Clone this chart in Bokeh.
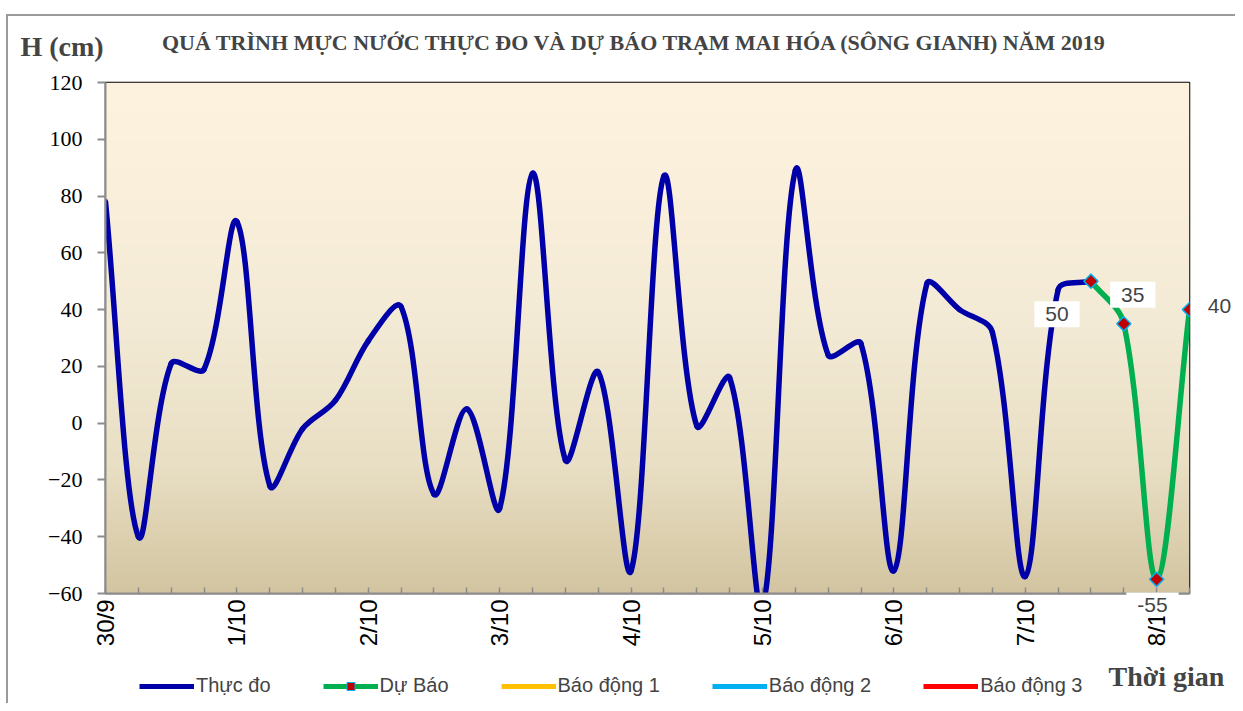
import math
import numpy as np
from bokeh.plotting import figure
from bokeh.layouts import column
from bokeh.models import Range1d, FixedTicker, Label, Legend, LegendItem
from bokeh.embed import file_html
from bokeh.resources import INLINE

# ---------------- data ----------------
day_labels = ["30/9", "1/10", "2/10", "3/10", "4/10", "5/10", "6/10", "7/10", "8/10"]
steps_per_day = 4          # observations every 6 hours
n_steps = 33               # 30/9 00h .. 8/10 06h

observed = [78, -40, 21, 19, 71, -22, -2, 8, 29, 41, -25, 5, -30, 88, -13, 18,
            -52, 87, -1, 16, -65, 89, 24, 28, -52, 49, 40, 32, -54, 47, 50]
forecast = [50, 35, -55, 40]
forecast_start = 30

legend_labels = ["Thực đo", "Dự Báo", "Báo động 1", "Báo động 2", "Báo động 3"]
title_text = "QUÁ TRÌNH MỰC NƯỚC THỰC ĐO VÀ DỰ BÁO TRẠM MAI HÓA (SÔNG GIANH) NĂM  2019"
y_title = "H (cm)"
x_title = "Thời gian"

BLUE = "#0000A8"
GREEN = "#00B050"
YELLOW = "#FFC000"
CYAN = "#00B0F0"
RED = "#FF0000"
DKRED = "#C00000"
GREY = "#8C8C8C"

W, H = 1235, 703
ML, MR, MT, MB = 105, 46, 82, 110
FW, FH = W - ML - MR, H - MT - MB
PX_X = FW / n_steps
PX_Y = FH / 180.0


def smooth_segments(xs, ys, k=1.0 / 3.0):
    """Excel-like smoothed line: cubic bezier control points from neighbours,
    handle lengths weighted by the (screen) length of the adjacent chords."""
    n = len(xs)
    P = [(x * PX_X, y * PX_Y) for x, y in zip(xs, ys)]
    outs, ins = [], []
    for i in range(n):
        prv = P[i - 1] if i > 0 else P[i]
        nxt = P[i + 1] if i < n - 1 else P[i]
        tx, ty = nxt[0] - prv[0], nxt[1] - prv[1]
        dp = math.hypot(P[i][0] - prv[0], P[i][1] - prv[1])
        dn = math.hypot(nxt[0] - P[i][0], nxt[1] - P[i][1])
        s = dp + dn if dp + dn > 0 else 1.0
        wo, wi = dn / s, dp / s
        outs.append((P[i][0] + tx * k * wo, P[i][1] + ty * k * wo))
        ins.append((P[i][0] - tx * k * wi, P[i][1] - ty * k * wi))
    seg = {key: [] for key in ("x0", "y0", "x1", "y1", "cx0", "cy0", "cx1", "cy1")}
    for i in range(n - 1):
        seg["x0"].append(xs[i]); seg["y0"].append(ys[i])
        seg["x1"].append(xs[i + 1]); seg["y1"].append(ys[i + 1])
        seg["cx0"].append(outs[i][0] / PX_X); seg["cy0"].append(outs[i][1] / PX_Y)
        seg["cx1"].append(ins[i + 1][0] / PX_X); seg["cy1"].append(ins[i + 1][1] / PX_Y)
    return seg


# ================= main chart =================
p = figure(width=W, height=H, x_range=Range1d(0, n_steps), y_range=Range1d(-60, 120),
           output_backend="svg", toolbar_location=None,
           min_border_left=ML, min_border_right=MR, min_border_top=MT, min_border_bottom=MB,
           border_fill_color=None, background_fill_color="#F4EBD6")
p.frame_align = False
p.styles = {"background": "linear-gradient(#9A9A9A,#9A9A9A) 6px 14px / 2px 100% no-repeat, "
                          "linear-gradient(#9A9A9A,#9A9A9A) 6px 14px / 100% 2px no-repeat, white"}
p.title.visible = False
p.xgrid.visible = False
p.ygrid.visible = False
p.outline_line_color = "black"
p.outline_line_width = 1.5

# gradient background of plot area
stops_t = [0.0, 0.45, 0.75, 1.0]
stops_c = [(254, 243, 223), (244, 235, 215), (233, 223, 196), (211, 197, 161)]
N = 256
tt = np.linspace(1.0, 0.0, N)  # row 0 is bottom
img = np.zeros((N, 1), dtype=np.uint32)
view = img.view(dtype=np.uint8).reshape((N, 1, 4))
for ch in range(3):
    view[:, 0, ch] = np.interp(tt, stops_t, [c[ch] for c in stops_c]).astype(np.uint8)
view[:, 0, 3] = 255
p.image_rgba(image=[img], x=0, y=-60, dw=n_steps, dh=180)

# observed curve
xs_obs = list(range(len(observed)))
p.bezier(line_color=BLUE, line_width=5.5, line_cap="round", **smooth_segments(xs_obs, observed))

# forecast curve
xs_fc = list(range(forecast_start, forecast_start + len(forecast)))
p.bezier(line_color=GREEN, line_width=5.5, line_cap="round", **smooth_segments(xs_fc, forecast))
p.scatter(xs_fc, forecast, marker="square", angle=np.pi / 4, size=10,
          fill_color=DKRED, line_color=CYAN, line_width=1.5)

# axes
p.yaxis.ticker = FixedTicker(ticks=list(range(-60, 121, 20)))
p.yaxis.major_label_text_font = "Liberation Serif"
p.yaxis.major_label_text_font_size = "22px"
p.yaxis.major_label_text_color = "black"
p.yaxis.major_tick_out = 8
p.yaxis.major_tick_in = 0
p.yaxis.minor_tick_line_color = None
p.yaxis.major_label_standoff = 15
p.yaxis.axis_line_color = GREY
p.yaxis.axis_line_width = 2
p.yaxis.major_tick_line_color = GREY
p.yaxis.major_tick_line_width = 2

p.xaxis.ticker = FixedTicker(ticks=list(range(n_steps + 1)))
overrides = {i: "" for i in range(n_steps + 1)}
for d, lab in enumerate(day_labels):
    overrides[d * steps_per_day] = lab
p.xaxis.major_label_overrides = overrides
p.xaxis.major_label_orientation = np.pi / 2
p.xaxis.major_label_text_font = "Liberation Sans"
p.xaxis.major_label_text_font_size = "24px"
p.xaxis.major_label_text_color = "black"
p.xaxis.major_tick_in = 6
p.xaxis.major_tick_out = 0
p.xaxis.minor_tick_line_color = None
p.xaxis.major_label_standoff = 6
p.xaxis.axis_line_color = GREY
p.xaxis.axis_line_width = 2
p.xaxis.major_tick_line_color = GREY
p.xaxis.major_tick_line_width = 1.5

# data labels inside the plot area
for xv, yv, (dx, dy) in zip(xs_fc[:2], forecast[:2], [(-34, -33), (9, 29)]):
    p.add_layout(Label(x=xv, y=yv, x_offset=dx, y_offset=dy, text=str(yv),
                       text_font="Liberation Sans", text_font_size="21px",
                       text_align="center", text_baseline="middle",
                       background_fill_color="white", padding=(11, 6)))

# ================= text overlay (same size, transparent) =================
q = figure(width=W, height=H, x_range=Range1d(0, W), y_range=Range1d(0, H),
           output_backend="svg", toolbar_location=None, min_border=0,
           x_axis_location=None, y_axis_location=None,
           border_fill_color=None, background_fill_color=None, outline_line_color=None)
q.frame_align = False
q.title.visible = False
q.xgrid.visible = False
q.ygrid.visible = False
q.styles = {"margin-top": f"-{H}px"}


def put(text, px, py, font, size, style="normal", align="left", bg=None, pad=0):
    # px, py: position measured from the top-left corner of the chart
    q.add_layout(Label(x=px, y=H - py, x_units="screen", y_units="screen", text=text,
                       text_font=font, text_font_size=size, text_font_style=style,
                       text_align=align, text_baseline="middle",
                       background_fill_color=bg, padding=pad))


put(title_text, 637, 42, "Liberation Serif", "22px", "bold", "center")
put(y_title, 20, 46, "Liberation Serif", "28px", "bold")
put(x_title, 1108, 676, "Liberation Serif", "28px", "bold")
put(str(forecast[3]), 1219, 305, "Liberation Sans", "21px", align="center")
put(str(forecast[2]), 1152, 604, "Liberation Sans", "21px", align="center", bg="white", pad=(11, 5))

# legend (proxy renderers are hidden; only their legend swatches are drawn)
leg_obs = q.line(x=xs_obs, y=observed, line_color=BLUE, line_width=5, visible=False)
leg_fc = q.line(x=xs_fc, y=forecast, line_color=GREEN, line_width=5, visible=False)
leg_fc_m = q.scatter(x=xs_fc, y=forecast, marker="square", angle=np.pi / 4, size=6,
                     fill_color=DKRED, line_color=CYAN, line_width=1, visible=False)
leg_b1 = q.line(x=xs_fc, y=forecast, line_color=YELLOW, line_width=5, visible=False)
leg_b2 = q.line(x=xs_fc, y=forecast, line_color=CYAN, line_width=5, visible=False)
leg_b3 = q.line(x=xs_fc, y=forecast, line_color=RED, line_width=5, visible=False)
legend = Legend(items=[
    LegendItem(label=legend_labels[0], renderers=[leg_obs]),
    LegendItem(label=legend_labels[1], renderers=[leg_fc, leg_fc_m]),
    LegendItem(label=legend_labels[2], renderers=[leg_b1]),
    LegendItem(label=legend_labels[3], renderers=[leg_b2]),
    LegendItem(label=legend_labels[4], renderers=[leg_b3]),
], location=(139, H - 697), orientation="horizontal", glyph_width=55, glyph_height=20,
    label_standoff=2, spacing=52, padding=0, margin=0, border_line_color=None,
    background_fill_alpha=0, label_text_font="Liberation Sans",
    label_text_font_size="20px", label_height=20, click_policy="none")
q.add_layout(legend)

layout = column(p, q, spacing=0)
open("out.html", "w").write(file_html(layout, INLINE))
